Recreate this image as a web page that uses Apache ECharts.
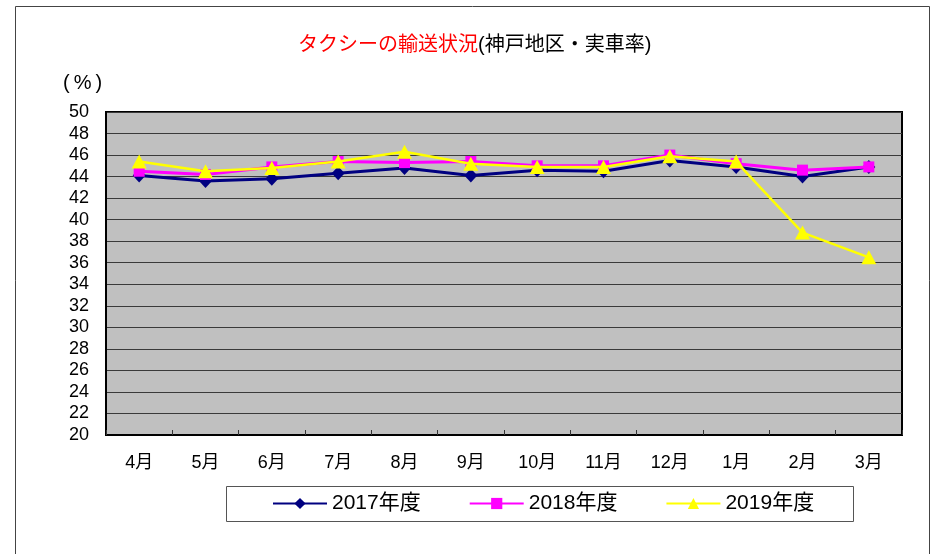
<!DOCTYPE html>
<html>
<head>
<meta charset="utf-8">
<script src="https://cdn.jsdelivr.net/npm/echarts@6/dist/echarts.min.js"></script>
<style>
html,body{margin:0;padding:0;background:#fff;}
#chart{width:932px;height:554px;}
</style>
</head>
<body>
<div id="chart"></div>
<script>
const categories = ['4月','5月','6月','7月','8月','9月','10月','11月','12月','1月','2月','3月'];
const seriesNames = ['2017年度','2018年度','2019年度'];
const values2017 = [44.1, 43.6, 43.8, 44.3, 44.8, 44.1, 44.6, 44.5, 45.5, 44.9, 44.0, 44.9];
const values2018 = [44.5, 44.2, 44.9, 45.4, 45.3, 45.4, 45.0, 45.0, 46.0, 45.2, 44.6, 44.9];
const values2019 = [45.4, 44.5, 44.8, 45.4, 46.3, 45.2, 44.9, 44.9, 45.9, 45.4, 38.8, 36.5];
const yTicks = {min: 20, max: 50, step: 2};

const FONT = "'Liberation Sans', 'Noto Sans CJK JP', sans-serif";
const chart = echarts.init(document.getElementById('chart'), null, {renderer: 'canvas'});

chart.setOption({
  animation: false,
  backgroundColor: '#ffffff',
  textStyle: {fontFamily: FONT},
  title: {
    text: '{r|タクシーの輸送状況}{b|(神戸地区・実車率)}',
    left: 298,
    top: 35,
    padding: 0,
    textStyle: {
      fontWeight: 'normal',
      rich: {
        r: {color: '#ff0000', fontSize: 20, fontWeight: 'normal', fontFamily: FONT},
        b: {color: '#000000', fontSize: 20, fontWeight: 'normal', fontFamily: FONT}
      }
    }
  },
  graphic: [
    {type: 'rect', silent: true, z: -10, shape: {x: 15.5, y: 6.5, width: 914, height: 560},
     style: {fill: 'none', stroke: '#444', lineWidth: 1}},
    {type: 'text', left: 63, top: 73, silent: true,
     style: {text: '(\u2009%\u2009)', fontSize: 20, fontFamily: FONT, fill: '#000'}},
    {type: 'rect', silent: true, shape: {x: 226.5, y: 486.5, width: 627, height: 35},
     style: {fill: '#fff', stroke: '#555', lineWidth: 1}, z: 0}
  ],
  legend: {
    left: 272,
    top: 493,
    padding: 0,
    itemWidth: 54,
    itemHeight: 14,
    itemGap: 48,
    z: 5,
    textStyle: {fontSize: 21, color: '#000', fontFamily: FONT},
    data: seriesNames
  },
  grid: {
    left: 106, right: 30, top: 112, bottom: 119,
    show: true,
    backgroundColor: '#c0c0c0',
    borderColor: '#000',
    borderWidth: 2,
    containLabel: false
  },
  xAxis: {
    type: 'category',
    data: categories,
    boundaryGap: true,
    axisLine: {show: true, lineStyle: {color: '#000', width: 2}},
    axisTick: {show: true, inside: true, length: 5, lineStyle: {color: '#333', width: 1}},
    axisLabel: {fontSize: 18, color: '#000', margin: 19, fontFamily: FONT},
    splitLine: {show: false}
  },
  yAxis: {
    type: 'value',
    min: yTicks.min,
    max: yTicks.max,
    interval: yTicks.step,
    axisLine: {show: true, lineStyle: {color: '#000', width: 2}},
    axisTick: {show: false},
    axisLabel: {fontSize: 18, color: '#000', margin: 17, fontFamily: FONT},
    splitLine: {show: true, lineStyle: {color: '#3a3a3a', width: 1}}
  },
  series: [
    {
      name: seriesNames[0], type: 'line', data: values2017,
      symbol: 'diamond', symbolSize: [13, 14],
      lineStyle: {color: '#000080', width: 3},
      itemStyle: {color: '#000080'},
      z: 2
    },
    {
      name: seriesNames[1], type: 'line', data: values2018,
      symbol: 'rect', symbolSize: 11,
      lineStyle: {color: '#ff00ff', width: 3},
      itemStyle: {color: '#ff00ff'},
      z: 3
    },
    {
      name: seriesNames[2], type: 'line', data: values2019,
      symbol: 'triangle', symbolSize: [15, 14],
      lineStyle: {color: '#ffff00', width: 2.5},
      itemStyle: {color: '#ffff00'},
      z: 4
    }
  ]
});
</script>
</body>
</html>
